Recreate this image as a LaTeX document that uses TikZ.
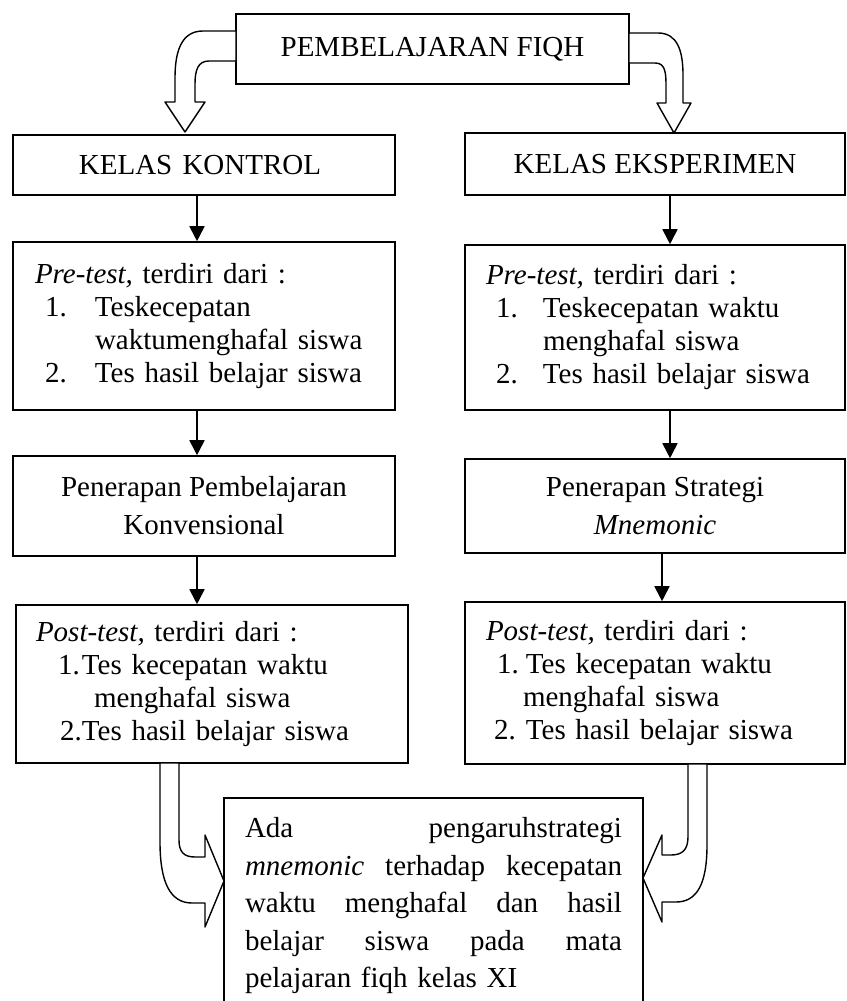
\documentclass[tikz,border=0pt]{standalone}
\usepackage{fontspec}
\setmainfont{Liberation Serif}
\usetikzlibrary{arrows.meta}
\tikzset{
  box/.style={draw, line width=1.6pt, rectangle, inner sep=0pt, align=center},
  listbox/.style={draw, line width=1.6pt, rectangle, inner ysep=0pt, align=left},
  arr/.style={line width=1.8pt, -{Triangle[width=15pt,length=15pt]}},
  blockarrow/.style={draw, fill=white, line width=1.4pt, line join=round},
  every node/.style={font=\fontsize{29}{33}\selectfont}
}
\newcommand{\itm}[3]{\hspace*{#1}\makebox[#2][l]{#3}}
\begin{document}
\begin{tikzpicture}[x=1pt,y=-1pt]
\useasboundingbox (0,0) rectangle (846,1001);

% top box
\node[box, minimum width=393pt, minimum height=70pt] (top) at (432.5,49) {\raisebox{5pt}{PEMBELAJARAN FIQH}};

% class boxes
\node[box, minimum width=382pt, minimum height=60pt] (kk) at (204,165) {\hspace*{-8pt}KELAS\hspace{0.1em} KONTROL};
\node[box, minimum width=380pt, minimum height=62pt] (ke) at (655,164) {KELAS EKSPERIMEN};

% pre-test boxes
\node[listbox, inner xsep=22pt, text width=338pt, minimum height=168pt] (prel) at (204,326) {%
\textit{Pre-test,} terdiri dari :\\
\itm{10pt}{50pt}{1.}Teskecepatan\\
\hspace*{60pt}waktumenghafal siswa\\
\itm{10pt}{50pt}{2.}Tes hasil belajar siswa};
\node[listbox, inner xsep=21pt, text width=338pt, minimum height=165pt] (prer) at (655,327.5) {%
\textit{Pre-test,} terdiri dari :\\
\itm{10pt}{47pt}{1.}Teskecepatan waktu\\
\hspace*{57pt}menghafal siswa\\
\itm{10pt}{47pt}{2.}Tes hasil belajar siswa};

% treatment boxes
\node[box, minimum width=382pt, minimum height=100pt, font=\fontsize{29}{38}\selectfont] (penl) at (204,506) {Penerapan Pembelajaran\\Konvensional};
\node[box, minimum width=380pt, minimum height=94pt, font=\fontsize{29}{38}\selectfont] (penr) at (655,506) {Penerapan Strategi\\\textit{Mnemonic}};

% post-test boxes
\node[listbox, inner xsep=20pt, text width=352pt, minimum height=158pt] (postl) at (212,684) {%
\textit{Post-test,} terdiri dari :\\
\itm{22pt}{24pt}{1.}Tes kecepatan waktu\\
\hspace*{58pt}menghafal siswa\\
\itm{24pt}{22pt}{2.}Tes hasil belajar siswa};
\node[listbox, inner xsep=21pt, text width=338pt, minimum height=162pt] (postr) at (655,683) {%
\textit{Post-test,} terdiri dari :\\
\itm{11pt}{29pt}{1.}Tes kecepatan waktu\\
\hspace*{37pt}menghafal siswa\\
\itm{8pt}{32pt}{2.}Tes hasil belajar siswa};

% final box (bottom edge lies below the page)
\node[draw, line width=1.6pt, rectangle, anchor=north, inner xsep=21pt, inner ysep=20pt,
      text width=377pt, align=left, font=\fontsize{29}{37.5}\selectfont] (res) at (433.5,797) {%
\makebox[377pt][s]{Ada\hfill pengaruhstrategi}\\
\makebox[377pt][s]{\textit{mnemonic}\hfill terhadap\hfill kecepatan}\\
\makebox[377pt][s]{waktu\hfill menghafal\hfill dan\hfill hasil}\\
\makebox[377pt][s]{belajar\hfill siswa\hfill pada\hfill mata}\\
pelajaran fiqh kelas XI};

% straight arrows
\draw[arr] ([xshift=-7pt]kk.south) -- ([xshift=-7pt]kk.south |- prel.north);
\draw[arr] ([xshift=15pt]ke.south) -- ([xshift=15pt]ke.south |- prer.north);
\draw[arr] ([xshift=-7pt]prel.south) -- ([xshift=-7pt]prel.south |- penl.north);
\draw[arr] ([xshift=15pt]prer.south) -- ([xshift=15pt]prer.south |- penr.north);
\draw[arr] ([xshift=-7pt]penl.south) -- ([xshift=-7pt]penl.south |- postl.north);
\draw[arr] ([xshift=7pt]penr.south) -- ([xshift=7pt]penr.south |- postr.north);

% block arrow: top -> kelas kontrol
\path[blockarrow] (236,31) -- (203,31) .. controls (181,31) and (175,52) .. (175,78) -- (175,102)
  -- (165,102) -- (185,132) -- (205,102) -- (195,102) -- (195,84)
  .. controls (195,70) and (198,61) .. (209,61) -- (236,61) -- cycle;

% block arrow: top -> kelas eksperimen
\path[blockarrow] (629,33) -- (658,33) .. controls (677,33) and (683,50) .. (683,75) -- (683,103)
  -- (691,103) -- (674,133) -- (657,103) -- (666,103) -- (666,84)
  .. controls (666,70) and (664,63) .. (655,63) -- (629,63) -- cycle;

% block arrow: post-test kontrol -> result
\path[blockarrow] (179,763) -- (179,840) .. controls (179,852) and (184,857) .. (195,857) -- (205,857)
  -- (205,835) -- (224,881) -- (205,927) -- (205,903) -- (192,903)
  .. controls (170,903) and (160,882) .. (160,842) -- (160,763) -- cycle;

% block arrow: post-test eksperimen -> result
\path[blockarrow] (688,764) -- (688,837) .. controls (688,850) and (682,855) .. (671,855) -- (662,855)
  -- (662,835) -- (643,878) -- (662,922) -- (662,902) -- (676,902)
  .. controls (698,902) and (707,882) .. (707,845) -- (707,764) -- cycle;
\end{tikzpicture}
\end{document}
